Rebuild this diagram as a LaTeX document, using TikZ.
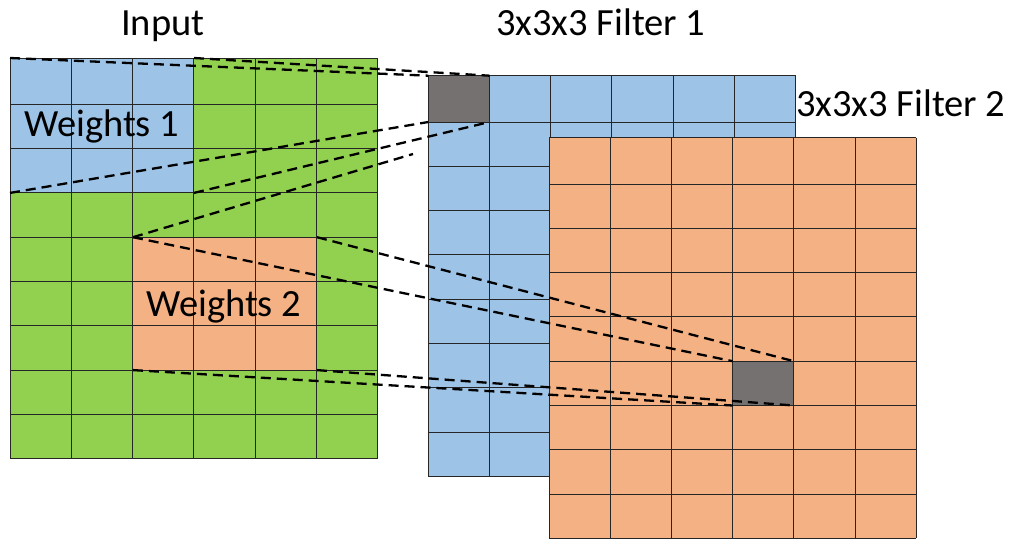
\documentclass[tikz,border=0pt]{standalone}
\usepackage{fontspec}
\setmainfont{Carlito}
\definecolor{inblue}{HTML}{9DC3E6}
\definecolor{ingreen}{HTML}{92D050}
\definecolor{inorange}{HTML}{F4B183}
\definecolor{cellgray}{HTML}{767171}
\definecolor{gridline}{HTML}{262626}
\begin{document}
\begin{tikzpicture}[x=1pt,y=-1pt,
  gridln/.style={draw=gridline, line width=1pt},
  link/.style={dash pattern=on 10pt off 6pt, line width=2.3pt, black},
  region/.style={draw=none, inner sep=0pt, outer sep=0pt, anchor=north west},
  graycell/.style={draw=gridline, line width=1pt, fill=cellgray, inner sep=0pt, outer sep=0pt, anchor=north west, minimum width=61.2pt},
  lbl/.style={font=\fontsize{38.5}{42}\selectfont, inner sep=0pt, anchor=base west}]
\useasboundingbox (0,0) rectangle (1011,538);
% ---------- Input ----------
\fill[ingreen] (10,58) rectangle (378,458.7);
\node[region, fill=inblue, minimum width=184pt, minimum height=134.9pt] (w1) at (10,58) {};
\node[region, fill=inorange, minimum width=184pt, minimum height=132.9pt] (w2) at (133,237.2) {};
\foreach \c in {0,...,6} \draw[gridln] ({10+\c*61.33},58) -- ({10+\c*61.33},458.7);
\foreach \r in {0,46.3,90.6,134.9,179.2,223.5,267.8,312.1,356.4,400.7} \draw[gridln] (10,{58+\r}) -- (378,{58+\r});
% ---------- Filter 1 ----------
\fill[inblue] (428.3,75.7) rectangle (795.7,476.4);
\foreach \c in {0,...,6} \draw[gridln] ({428.3+\c*61.23},75.7) -- ({428.3+\c*61.23},476.4);
\foreach \r in {0,46.3,90.6,134.9,179.2,223.5,267.8,312.1,356.4,400.7} \draw[gridln] (428.3,{75.7+\r}) -- (795.7,{75.7+\r});
\node[graycell, minimum height=46.3pt] (g1) at (428.3,75.7) {};
% ---------- Filter 2 ----------
\fill[inorange] (549,137.7) rectangle (916.3,538.4);
\foreach \c in {0,...,6} \draw[gridln] ({549+\c*61.22},137.7) -- ({549+\c*61.22},538.4);
\foreach \r in {0,46.3,90.6,134.9,179.2,223.5,267.8,312.1,356.4,400.7} \draw[gridln] (549,{137.7+\r}) -- (916.3,{137.7+\r});
\node[graycell, minimum height=44.3pt] (g2) at (732.7,361.2) {};
% ---------- Labels ----------
\node[lbl] (tin) at (121,35) {Input};
\node[lbl] (tf1) at (496,35.7) {3x3x3 Filter 1};
\node[lbl] (tf2) at (796,116.7) {3x3x3 Filter 2};
\node[lbl] (tw1) at (24,136.7) {Weights 1};
\node[lbl] (tw2) at (146,316.7) {Weights 2};
% ---------- Dashed links ----------
\draw[link] (w1.north west) -- (g1.north west);
\draw[link] (w1.north east) -- (g1.north east);
\draw[link] (w1.south west) -- (g1.south west);
\draw[link] (w1.south east) -- (g1.south east);
\draw[link] (w2.north west) -- (g2.north west);
\draw[link] (w2.north east) -- (g2.north east);
\draw[link] (w2.south west) -- (g2.south west);
\draw[link] (w2.south east) -- (g2.south east);
\coordinate (stray) at (413,154);
\draw[link] (w2.north west) -- (stray);
\end{tikzpicture}
\end{document}
